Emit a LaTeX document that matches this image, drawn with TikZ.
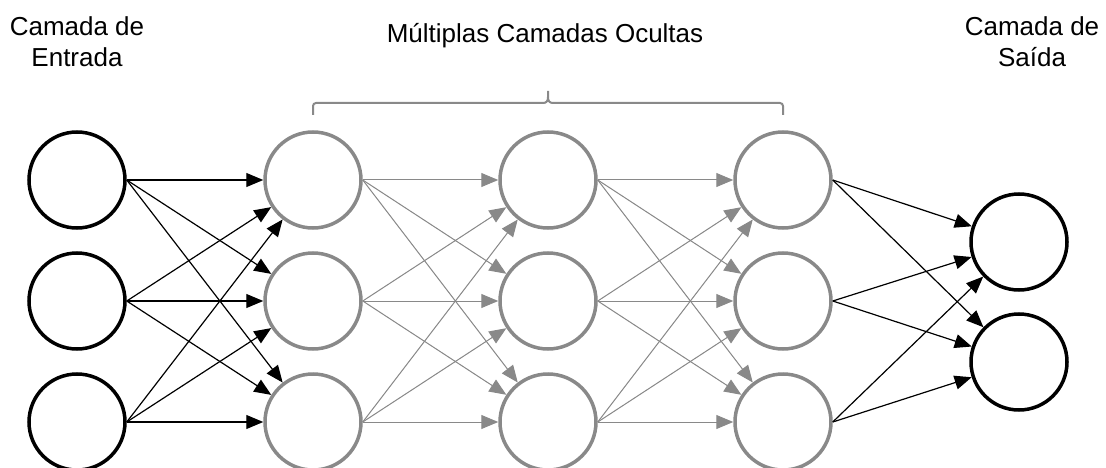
\documentclass[tikz,border=0pt]{standalone}
\usepackage{fontspec}
\setmainfont{Liberation Sans}
\usetikzlibrary{arrows.meta}
\definecolor{layergrey}{RGB}{137,137,137}
\begin{document}
\begin{tikzpicture}
[x=1pt,y=-1pt,
 neuron/.style={circle,draw,line width=3.5pt,minimum size=96pt,inner sep=0pt},
 hidden neuron/.style={neuron,draw=layergrey},
 layer text/.style={align=center,font=\fontsize{26}{31}\selectfont},
 black link/.style={line width=1.2pt,-{Triangle[length=17pt,width=14pt]}},
 grey link/.style={black link,line width=1pt,draw=layergrey,fill=layergrey}]
\useasboundingbox (0,0) rectangle (1106,468);
% input and hidden layers: three neurons each
\foreach \r/\y in {1/180,2/301,3/422} {
  \node[neuron] (in\r) at (77,\y) {};
  \node[hidden neuron] (ha\r) at (313,\y) {};
  \node[hidden neuron] (hb\r) at (548,\y) {};
  \node[hidden neuron] (hc\r) at (783,\y) {};
}
% output layer
\node[neuron] (out1) at (1019,242) {};
\node[neuron] (out2) at (1019,362) {};
% connections
\foreach \i in {1,2,3} {
  \foreach \j in {1,2,3} {
    \draw[black link] (in\i.east) -- (ha\j);
    \draw[grey link] (ha\i.east) -- (hb\j);
    \draw[grey link] (hb\i.east) -- (hc\j);
  }
  \foreach \j in {1,2}
    \draw[black link] (hc\i.east) -- (out\j);
}
% bracket over the hidden layers
\draw[layergrey,line width=2pt,rounded corners=3pt]
  (313,115) |- (543,103) (553,103) -| (783,115);
\draw[layergrey,line width=2pt]
  (543,103) .. controls (546.5,103) and (548,101) .. (548,97) -- (548,91)
  (548,97) .. controls (548,101) and (549.5,103) .. (553,103);
% labels
\node[layer text] (input label) at (77,42) {Camada de\\Entrada};
\node[layer text] (hidden label) at (545,36) {Múltiplas Camadas Ocultas};
\node[layer text] (output label) at (1032,42) {Camada de\\Saída};
\end{tikzpicture}
\end{document}
